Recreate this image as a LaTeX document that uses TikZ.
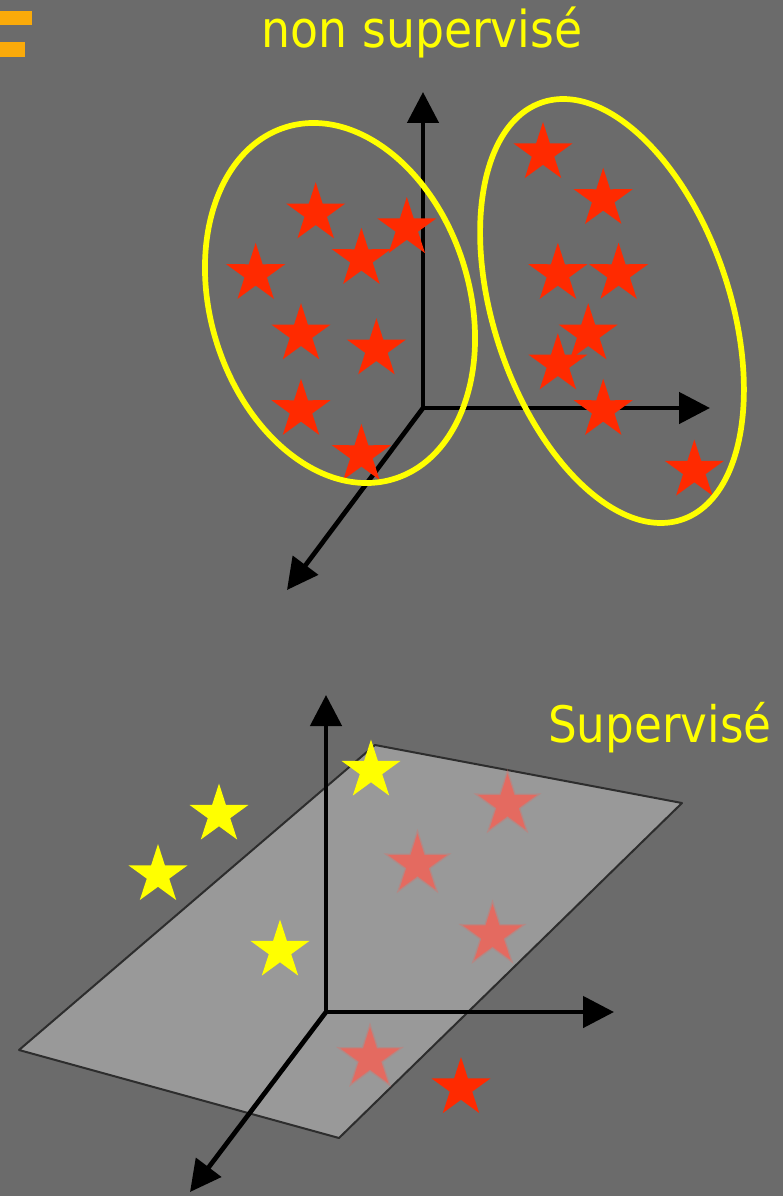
\documentclass[tikz,border=0pt]{standalone}
\usepackage{fontspec}
\setmainfont{DejaVu Sans Condensed}
\usetikzlibrary{arrows.meta}
\definecolor{bg}{RGB}{107,107,107}
\definecolor{sred}{RGB}{255,42,0}
\definecolor{syel}{RGB}{255,255,0}
\definecolor{sfade}{RGB}{228,106,96}
\definecolor{planefill}{RGB}{153,153,153}
\definecolor{planeedge}{RGB}{45,45,45}
\definecolor{orng}{RGB}{250,170,10}
\tikzset{
  axisline/.style={line width=4.7pt, -{Triangle[length=31pt,width=31pt]}},
  clusterring/.style={draw=syel, line width=5.7pt},
  titletext/.style={text=syel, inner sep=0pt, anchor=base west},
  pics/fstar/.style={code={
    \fill[#1] (90:31pt) -- (126:11.8pt) -- (162:31pt) -- (198:11.8pt) -- (234:31pt)
      -- (270:11.8pt) -- (306:31pt) -- (342:11.8pt) -- (18:31pt) -- (54:11.8pt) -- cycle;}},
}
\begin{document}
\begin{tikzpicture}[x=1pt,y=-1pt]
\useasboundingbox (0,0) rectangle (783,1196);
\fill[bg] (0,0) rectangle (783,1196);
% orange fragment top-left
\fill[orng] (0,11) rectangle (32,25);
\fill[orng] (0,42) rectangle (25,57);

% ---------- top: non supervise ----------
\node[titletext, font=\fontsize{50.8pt}{60pt}\selectfont] (t1) at (261.7,48) {non supervisé};
\coordinate (O1) at (423,408);
\coordinate (Y1) at (423,92);
\coordinate (X1) at (710,408);
\coordinate (Z1) at (287,590);
\draw[axisline] (O1) -- (Y1);
\draw[axisline] (O1) -- (X1);
\draw[axisline] (O1) -- (Z1);
\foreach \p in {(315.7,213.2),(406.8,228),(361.4,258.8),(255.7,273.8),(301,334.2),(376.4,349.2),(301,409.8),(361.4,454.8),
  (543,153),(603.2,198.8),(557.9,273.8),(618.6,273.8),(588.2,334.2),(557.9,364.2),(603.2,409.8),(694.3,470.5)}
  \pic at \p {fstar=sred};
\draw[clusterring, rotate around={17:(340,303)}] (340,303) ellipse [x radius=129.5pt, y radius=184pt];
\draw[clusterring, rotate around={18.5:(612,311)}] (612,311) ellipse [x radius=118pt, y radius=220pt];

% ---------- bottom: supervise ----------
\coordinate (P1) at (375,745);
\coordinate (P2) at (682,803);
\coordinate (P3) at (339,1138);
\coordinate (P4) at (19,1050);
\filldraw[fill=planefill, draw=planeedge, line width=2pt, line join=round] (P1) -- (P2) -- (P3) -- (P4) -- cycle;
\foreach \p in {(507.5,804.5),(417.5,864.5),(492.5,935),(370,1058)} {
  \pic[scale=1.15] at \p {fstar={sfade, fill opacity=0.35}};
  \pic at \p {fstar=sfade};
}
\coordinate (O2) at (326,1012);
\coordinate (Y2) at (326,695);
\coordinate (X2) at (614,1012);
\coordinate (Z2) at (190,1192);
\draw[axisline] (O2) -- (Y2);
\draw[axisline] (O2) -- (X2);
\draw[axisline] (O2) -- (Z2);
\foreach \p in {(371,770.5),(219,814.5),(158,875),(280,950.5)}
  \pic at \p {fstar=syel};
\pic at (461,1088) {fstar=sred};
\node[titletext, font=\fontsize{50.3pt}{60pt}\selectfont] (t2) at (548,742.7) {Supervisé};
\end{tikzpicture}
\end{document}
